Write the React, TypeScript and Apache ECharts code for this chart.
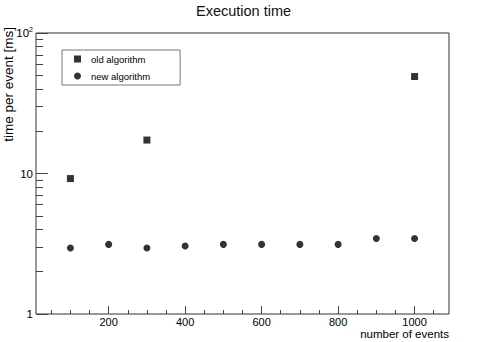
import React, { useEffect, useRef } from 'react';
import * as echarts from 'echarts';

const titleText = 'Execution time';
const xTitle = 'number of events';
const yTitle = 'time per event [ms]';
const seriesNames = ['old algorithm', 'new algorithm'];

const oldX = [100, 300, 1000];
const oldY = [9.2, 17.3, 49];
const newX = [100, 200, 300, 400, 500, 600, 700, 800, 900, 1000];
const newY = [2.95, 3.13, 2.95, 3.05, 3.13, 3.13, 3.13, 3.13, 3.45, 3.45];

const xMin = 10;
const xMax = 1090;
const xMajorTicks = [200, 400, 600, 800, 1000];
const xMinorTicks = [50, 100, 150, 250, 300, 350, 450, 500, 550, 650, 700, 750, 850, 900, 950, 1050];
const yMin = 1;
const yMax = 100;
const yMinorTicks = [2, 3, 4, 5, 6, 7, 8, 9, 20, 30, 40, 50, 60, 70, 80, 90];

const FONT = '"Liberation Sans", Arial, Helvetica, sans-serif';

export default function App() {
  const ref = useRef<HTMLDivElement>(null);
  useEffect(() => {
    if (!ref.current) return;
    const chart = echarts.init(ref.current, undefined, { renderer: 'svg' });
    const tickColor = '#444';
    const option: any = {
      animation: false,
      backgroundColor: '#fff',
      textStyle: { fontFamily: FONT },
      title: {
        text: titleText,
        left: 196,
        top: 3,
        padding: 0,
        textStyle: { fontSize: 14.5, fontWeight: 'normal', color: '#111', fontFamily: FONT },
      },
      grid: {
        left: 36,
        right: 45,
        top: 33,
        bottom: 28,
        show: true,
        borderColor: '#333',
        borderWidth: 1,
        containLabel: false,
      },
      legend: {
        orient: 'vertical',
        left: 62,
        top: 50,
        padding: [3, 30, 3, 12],
        itemGap: 5,
        itemWidth: 7,
        itemHeight: 7,
        borderColor: '#777',
        borderWidth: 1,
        backgroundColor: '#fff',
        textStyle: { fontSize: 9.5, color: '#000', padding: [0, 0, 0, 5], lineHeight: 12, fontFamily: FONT },
        data: [
          { name: seriesNames[0], icon: 'rect' },
          { name: seriesNames[1], icon: 'circle' },
        ],
      },
      xAxis: [
        {
          type: 'value',
          min: xMin,
          max: xMax,
          position: 'bottom',
          axisLine: { show: false },
          splitLine: { show: false },
          axisTick: { show: true, inside: true, length: 8, customValues: xMajorTicks, lineStyle: { color: tickColor } },
          axisLabel: {
            customValues: xMajorTicks,
            margin: 2,
            fontSize: 11,
            color: '#000',
            fontFamily: FONT,
            formatter: (v: number) => String(Math.round(v)),
          },
        },
        {
          type: 'value',
          min: xMin,
          max: xMax,
          position: 'bottom',
          axisLine: { show: false },
          splitLine: { show: false },
          axisTick: { show: true, inside: true, length: 4, customValues: xMinorTicks, lineStyle: { color: tickColor } },
          axisLabel: { show: false },
        },
      ],
      yAxis: [
        {
          type: 'log',
          logBase: 10,
          min: yMin,
          max: yMax,
          position: 'left',
          axisLine: { show: false },
          splitLine: { show: false },
          axisTick: { show: true, inside: true, length: 12, lineStyle: { color: tickColor } },
          axisLabel: {
            margin: 3,
            fontSize: 11.5,
            color: '#000',
            fontFamily: FONT,
            formatter: (v: number) => {
              const p = Math.round(Math.log10(v));
              return p >= 2 ? '10{s|' + p + '}' : String(Math.round(v));
            },
            rich: { s: { fontSize: 7, padding: [0, 0, 7, 0], color: '#000', fontFamily: FONT } },
          },
        },
        {
          type: 'log',
          logBase: 10,
          min: yMin,
          max: yMax,
          position: 'left',
          axisLine: { show: false },
          splitLine: { show: false },
          axisTick: { show: true, inside: true, length: 7, customValues: yMinorTicks, lineStyle: { color: tickColor } },
          axisLabel: { show: false },
        },
      ],
      series: [
        {
          name: seriesNames[0],
          type: 'scatter',
          symbol: 'rect',
          symbolSize: 7,
          itemStyle: { color: '#000' },
          xAxisIndex: 0,
          yAxisIndex: 0,
          data: oldX.map((x, i) => [x, oldY[i]]),
          z: 5,
        },
        {
          name: seriesNames[1],
          type: 'scatter',
          symbol: 'circle',
          symbolSize: 7,
          itemStyle: { color: '#000' },
          xAxisIndex: 0,
          yAxisIndex: 0,
          data: newX.map((x, i) => [x, newY[i]]),
          z: 5,
        },
      ],
      graphic: [
        {
          type: 'text',
          x: 8,
          y: 27,
          rotation: Math.PI / 2,
          style: {
            text: yTitle,
            fontSize: 13.5,
            fontFamily: FONT,
            fill: '#000',
            align: 'right',
            textAlign: 'right',
            verticalAlign: 'middle',
            textVerticalAlign: 'middle',
          },
        },
        {
          type: 'text',
          x: 449,
          y: 334,
          style: {
            text: xTitle,
            fontSize: 11.5,
            fontFamily: FONT,
            fill: '#000',
            align: 'right',
            textAlign: 'right',
            verticalAlign: 'middle',
            textVerticalAlign: 'middle',
          },
        },
      ],
    };
    chart.setOption(option);
    return () => chart.dispose();
  }, []);
  return (
    <div
      ref={ref}
      style={{ position: 'fixed', left: 0, top: 0, width: 494, height: 342, background: '#fff' }}
    />
  );
}
